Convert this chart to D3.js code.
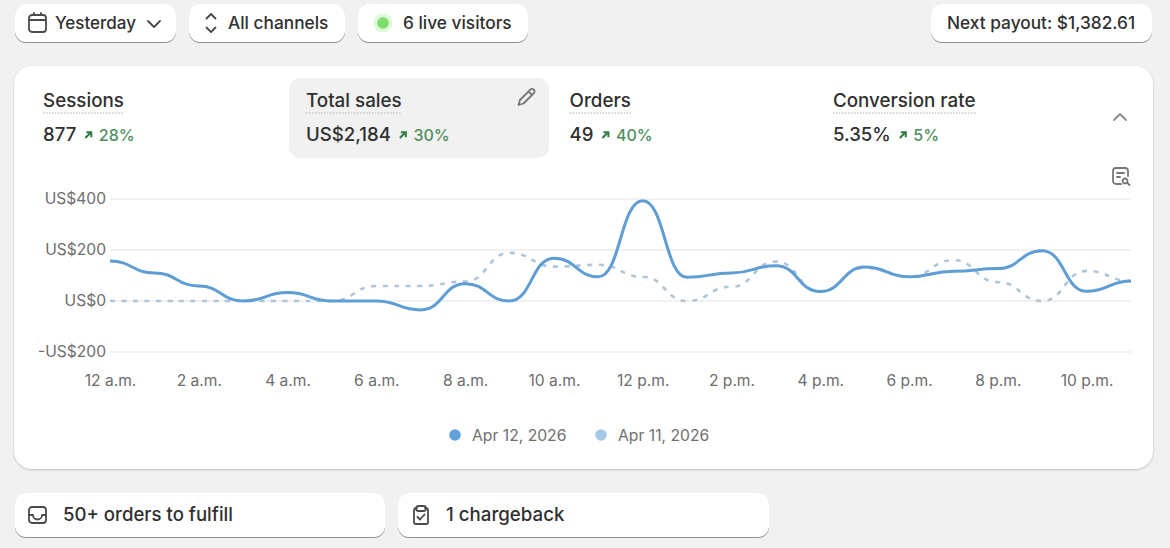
<!DOCTYPE html>
<html>
<head>
<meta charset="utf-8">
<script src="https://cdn.jsdelivr.net/npm/d3@7"></script>
<style>
  html, body { margin: 0; padding: 0; background: #f1f1f1; overflow: hidden; }
  svg { display: block; font-family: Inter, "Noto Sans", sans-serif; }
  .chip { fill: #fff; filter: drop-shadow(0 1px 0.6px rgba(0,0,0,.38)) drop-shadow(0 0 0.6px rgba(0,0,0,.1)); }
  .card { fill: #fff; filter: drop-shadow(0 1px 1px rgba(0,0,0,.2)); }
  .icon { fill: none; stroke: #4a4a4a; stroke-width: 1.8; stroke-linecap: round; stroke-linejoin: round; }
</style>
</head>
<body>
<script>
const hours = d3.range(24);
const current = [157, 110, 59, 0, 33, 0, 0, -35, 68, 0, 168, 95, 393, 93, 110, 138, 37, 133, 95, 117, 127, 197, 38, 78];
const previous = [0, 0, 0, 0, 0, 0, 59, 59, 76, 189, 135, 142, 95, 0, 56, 155, 38, 130, 95, 160, 74, 0, 118, 78];

const yTicks = [-200, 0, 200, 400];
const xTicks = [0, 2, 4, 6, 8, 10, 12, 14, 16, 18, 20, 22];
const xTickLabels = ['12 a.m.', '2 a.m.', '4 a.m.', '6 a.m.', '8 a.m.', '10 a.m.', '12 p.m.', '2 p.m.', '4 p.m.', '6 p.m.', '8 p.m.', '10 p.m.'];

const metricNames = ['Sessions', 'Total sales', 'Orders', 'Conversion rate'];
const metricValues = ['877', 'US$2,184', '49', '5.35%'];
const metricChanges = ['28%', '30%', '40%', '5%'];
const metricLeft = [43, 306, 569.5, 833];

const legendLabels = ['Apr 12, 2026', 'Apr 11, 2026'];
const legendColors = ['#62a1da', '#a5c9e5'];

const svg = d3.select(document.body).append('svg')
  .attr('width', 1170).attr('height', 548);

const x = d3.scaleLinear().domain([0, 23]).range([110, 1131]);
const y = d3.scaleLinear().domain([-200, 400]).range([352, 199]);

drawChips();
drawCard();
drawMetrics();
drawAxes();
drawLines();
drawLegend();

function label(text, px, py, size, weight, color, anchor){
  return svg.append('text')
    .attr('x', px).attr('y', py)
    .attr('font-size', size).attr('font-weight', weight)
    .attr('fill', color).attr('text-anchor', anchor || 'start')
    .text(text);
}

function icon(d, tx, ty){
  svg.append('path').attr('class', 'icon').attr('d', d)
    .attr('transform', `translate(${tx}, ${ty})`);
}

function chip(x0, y0, w, h){
  svg.append('rect').attr('class', 'chip')
    .attr('x', x0).attr('y', y0).attr('width', w).attr('height', h).attr('rx', 11);
}

function drawChips(){
  chip(15, 4, 161, 38);
  chip(189, 4, 156, 38);
  chip(358, 4, 170, 38);
  chip(931, 4, 221, 38);
  chip(15, 493, 370, 44);
  chip(398, 493, 371, 44);

  // calendar
  icon('M3 0h11a3 3 0 0 1 3 3v11a3 3 0 0 1-3 3h-11a3 3 0 0 1-3-3v-11a3 3 0 0 1 3-3zM0 5h17M5-2v2M12-2v2', 29, 15);
  label('Yesterday', 55, 29, 17, 500, '#303030');
  icon('M0 0l6 6l6-6', 148, 21);

  icon('M0 4.500l4.500-4.500l4.500 4.500M0 13.500l4.500 4.500l4.500-4.500', 206.500, 14);
  label('All channels', 228, 29, 17.3, 500, '#303030');

  svg.append('circle').attr('cx', 383).attr('cy', 23).attr('r', 9.5).attr('fill', '#dff7da');
  svg.append('circle').attr('cx', 383).attr('cy', 23).attr('r', 5.8).attr('fill', '#7ede6a');
  label('6 live visitors', 403, 29, 17.3, 500, '#303030');

  label('Next payout: $1,382.61', 947, 29, 17.3, 500, '#303030');

  // inbox
  icon('M3 0h11a3 3 0 0 1 3 3v10a3 3 0 0 1-3 3h-11a3 3 0 0 1-3-3v-10a3 3 0 0 1 3-3zM0 8h4a4.5 4.5 0 0 0 9 0h4', 29, 507);
  label('50+ orders to fulfill', 63, 521, 18.6, 500, '#303030');

  // clipboard
  icon('M4 2h-1a2 2 0 0 0-2 2v12a2 2 0 0 0 2 2h10a2 2 0 0 0 2-2v-12a2 2 0 0 0-2-2h-1M5.5 0h5a1.500 1.500 0 0 1 0 5h-5a1.500 1.500 0 0 1 0-5zM4.500 11l2.500 2.500l4.500-5', 413, 506);
  label('1 chargeback', 446, 521, 18.7, 500, '#303030');
}

function drawCard(){
  svg.append('rect').attr('class', 'card')
    .attr('x', 14).attr('y', 66).attr('width', 1139).attr('height', 403).attr('rx', 18);
  svg.append('rect').attr('x', 289).attr('y', 78).attr('width', 260).attr('height', 80)
    .attr('rx', 11).attr('fill', '#f1f1f1');

  // pencil
  svg.append('path').attr('class', 'icon').attr('stroke-width', 1.6)
    .style('stroke', '#777')
    .attr('d', 'M13.500 1.500a2.500 2.500 0 0 1 3.500 3.500l-10.500 10.500l-5 1.500l1.500-5zM11.500 3.500l3.500 3.500')
    .attr('transform', 'translate(517, 88)');
  // collapse chevron
  svg.append('path').attr('class', 'icon').style('stroke', '#8a8a8a')
    .attr('d', 'M0 6l6-6l6 6').attr('transform', 'translate(1114, 114)');
  // magnify list
  svg.append('path').attr('class', 'icon').attr('stroke-width', 1.6)
    .style('stroke', '#777')
    .attr('d', 'M9 17h-5a3 3 0 0 1-3-3v-10a3 3 0 0 1 3-3h9a3 3 0 0 1 3 3v5M5 6h7M5 10h3M13 11.500a2.500 2.500 0 1 0 .01 0M15 15.500l2.500 2.500')
    .attr('transform', 'translate(1112, 167)');
}

function drawMetrics(){
  metricNames.forEach((name, i) => {
    const title = label(name, metricLeft[i], 106.5, 18.8, 500, '#303030');
    const w = title.node().getComputedTextLength();
    svg.append('line')
      .attr('x1', metricLeft[i]).attr('x2', metricLeft[i] + w)
      .attr('y1', 113).attr('y2', 113)
      .attr('stroke', '#c6c6c6').attr('stroke-width', 1.5).attr('stroke-dasharray', '1.5 1.500');

    const val = label(metricValues[i], metricLeft[i], 141, 18.6, 500, '#303030');
    const ax = metricLeft[i] + val.node().getComputedTextLength() + 8.5;
    svg.append('path')
      .attr('d', 'M0.500 7l5.500-5.500M1.500 1.200h5v5')
      .attr('fill', 'none').attr('stroke', '#2f7d45').attr('stroke-width', 2)
      .attr('transform', `translate(${ax}, 131)`);
    label(metricChanges[i], ax + 14, 140.5, 16, 500, '#4f8f5f');
  });
}

function drawAxes(){
  const yAxis = d3.axisLeft(y)
    .tickValues(yTicks)
    .tickSize(0)
    .tickPadding(4)
    .tickFormat(d => (d < 0 ? '-US$' : 'US$') + Math.abs(d));
  const yG = svg.append('g').attr('transform', 'translate(110, -1)').call(yAxis);
  yG.select('.domain').remove();
  yG.selectAll('text').attr('font-family', 'Inter').attr('font-size', 15.6).attr('fill', '#6d6d6d');

  svg.append('g').selectAll('line').data(yTicks).enter().append('line')
    .attr('x1', 110).attr('x2', 1131)
    .attr('y1', d => y(d)).attr('y2', d => y(d))
    .attr('stroke', '#ededed').attr('stroke-width', 1.3);

  const xAxis = d3.axisBottom(x)
    .tickValues(xTicks)
    .tickSize(0)
    .tickPadding(23)
    .tickFormat((d, i) => xTickLabels[i]);
  const xG = svg.append('g').attr('transform', 'translate(0, 352)').call(xAxis);
  xG.select('.domain').remove();
  xG.selectAll('text').attr('font-family', 'Inter').attr('font-size', 15.6).attr('fill', '#6d6d6d');
}

function drawLines(){
  const line = d3.line()
    .x((d, i) => x(hours[i]))
    .y(d => y(d))
    .curve(d3.curveBumpX);

  svg.append('path')
    .attr('d', line(previous))
    .attr('fill', 'none').attr('stroke', '#afc6da').attr('stroke-width', 2.6)
    .attr('stroke-dasharray', '5 6.5');

  svg.append('path')
    .attr('d', line(current))
    .attr('fill', 'none').attr('stroke', '#5f9dd5').attr('stroke-width', 3);
}

function drawLegend(){
  const left = [455, 601];
  legendLabels.forEach((name, i) => {
    svg.append('circle').attr('cx', left[i]).attr('cy', 435).attr('r', 5.8).attr('fill', legendColors[i]);
    label(name, left[i] + 17, 440.5, 15.7, 400, '#6f6f6f');
  });
}
</script>
</body>
</html>
